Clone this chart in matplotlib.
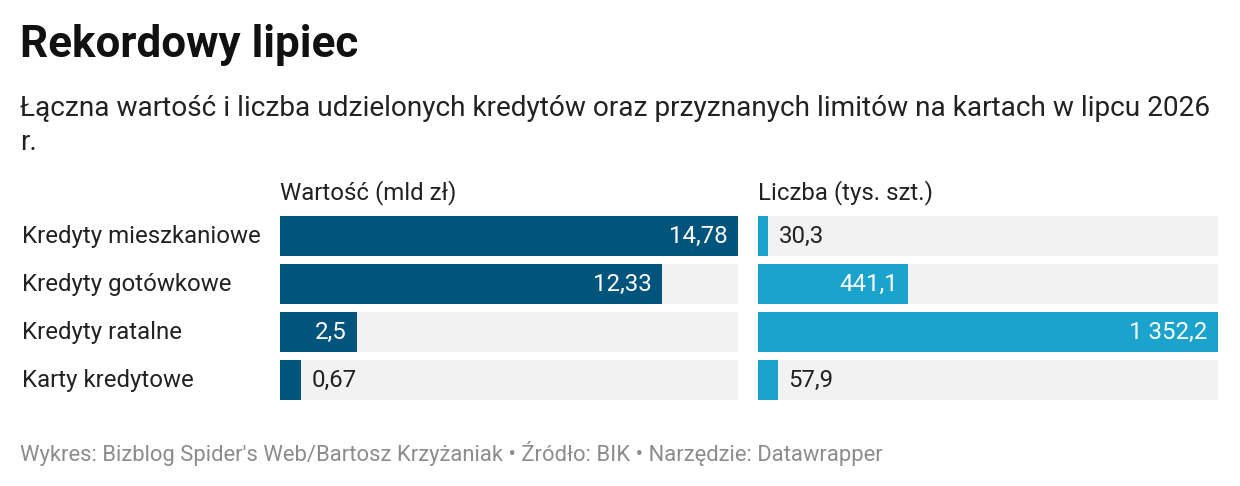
import matplotlib
matplotlib.use("Agg")
import matplotlib.pyplot as plt

# data
categories = ["Kredyty mieszkaniowe", "Kredyty gotówkowe", "Kredyty ratalne", "Karty kredytowe"]
wartosc = [14.78, 12.33, 2.5, 0.67]
wartosc_labels = ["14,78", "12,33", "2,5", "0,67"]
liczba = [30.3, 441.1, 1352.2, 57.9]
liczba_labels = ["30,3", "441,1", "1 352,2", "57,9"]

plt.rcParams['font.family'] = ['Roboto', 'DejaVu Sans']

W, H = 1240, 486
fig = plt.figure(figsize=(W / 100, H / 100), dpi=100)

def px_axes(x0, x1, y0, y1):
    return fig.add_axes([x0 / W, 1 - y1 / H, (x1 - x0) / W, (y1 - y0) / H])

fig.text(20 / W, 1 - 45 / H, "Rekordowy lipiec", fontsize=31.7, fontweight='bold',
         color='#111111', va='center', ha='left')
fig.text(20 / W, 1 - 108 / H,
         "Łączna wartość i liczba udzielonych kredytów oraz przyznanych limitów na kartach w lipcu 2026",
         fontsize=20.2, color='#222222', va='center', ha='left')
fig.text(20 / W, 1 - 142 / H, "r.", fontsize=20.2, color='#222222', va='center', ha='left')
fig.text(20 / W, 1 - 453 / H,
         "Wykres: Bizblog Spider's Web/Bartosz Krzyżaniak • Źródło: BIK • Narzędzie: Datawrapper",
         fontsize=15.8, color='#8c8c8c', va='center', ha='left')

rows = list(range(len(categories)))
bh = 40 / 48
fs = 17.3


def panel(ax, values, labels, color, title, min_inside):
    vmax = max(values)
    ax.barh(rows, [vmax] * len(rows), height=bh, color='#f2f2f2', left=0)
    ax.barh(rows, values, height=bh, color=color)
    ax.set_xlim(0, vmax)
    ax.set_ylim(len(rows) - 1 + 0.5 * bh, -0.5 * bh)
    ax.axis('off')
    for r, v, lab in zip(rows, values, labels):
        if v / vmax >= min_inside:
            ax.annotate(lab, (v, r), xytext=(-7.5, 0), textcoords='offset points',
                        ha='right', va='center', color='white', fontsize=fs)
        else:
            ax.annotate(lab, (v, r), xytext=(7.5, 0), textcoords='offset points',
                        ha='left', va='center', color='#222222', fontsize=fs)
    ax.text(0, -0.5 * bh - 0.48, title, ha='left', va='center', fontsize=fs, color='#222222')


ax1 = px_axes(280, 738, 216, 400)
panel(ax1, wartosc, wartosc_labels, '#01557c', "Wartość (mld zł)", 0.15)
ax2 = px_axes(758, 1218, 216, 400)
panel(ax2, liczba, liczba_labels, '#1aa3cd', "Liczba (tys. szt.)", 0.15)

for r, c in zip(rows, categories):
    ax1.annotate(c, (0, r), xytext=(-258 * 0.72, 0), textcoords='offset points',
                 ha='left', va='center', fontsize=fs, color='#222222')

fig.savefig("out.png", dpi=100, facecolor='white')
